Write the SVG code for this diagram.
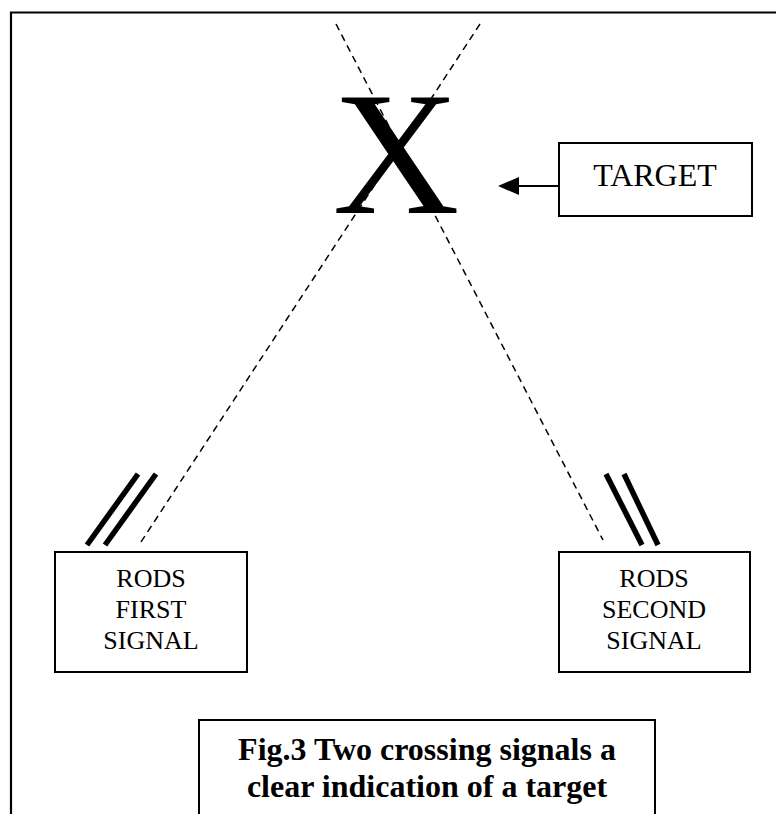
<svg xmlns="http://www.w3.org/2000/svg" width="776" height="814" viewBox="0 0 776 814">
  <style>
    .box { fill: #fff; stroke: #000; stroke-width: 2; }
    .frame { fill: none; stroke: #000; stroke-width: 2.2; }
    .label { font-family: "Liberation Serif", "Times New Roman", serif; fill: #000; text-anchor: middle; }
    .signal { stroke: #000; stroke-width: 1.5; stroke-dasharray: 7 5; fill: none; }
    .rod { stroke: #000; stroke-width: 5.5; }
    .caption { font-family: "Liberation Serif", "Times New Roman", serif; font-weight: bold; font-size: 32px; fill: #000; text-anchor: middle; }
  </style>
  <defs>
    <marker id="arrowhead" markerWidth="10" markerHeight="10" refX="0" refY="5" orient="auto" markerUnits="userSpaceOnUse" viewBox="0 0 10 10">
      <path d="M0,0 L10,5 L0,10 z" fill="#000"/>
    </marker>
  </defs>

  <rect width="776" height="814" fill="#fff"/>

  <!-- page frame: top and left rules only -->
  <path class="frame" d="M11,814 V12.5 H776"/>

  <!-- target mark -->
  <g id="target-mark">
    <text class="label" x="396" y="213" font-size="176">X</text>
  </g>

  <g id="connectors">
    <!-- signal paths crossing at the target -->
    <line class="signal" x1="336" y1="24" x2="603" y2="540"/>
    <line class="signal" x1="480" y1="24" x2="139" y2="545"/>
    <!-- rods of the first signal -->
    <line class="rod" x1="138" y1="474" x2="87" y2="545"/>
    <line class="rod" x1="156" y1="474" x2="105" y2="545"/>
    <!-- rods of the second signal -->
    <line class="rod" x1="606" y1="474" x2="642" y2="545"/>
    <line class="rod" x1="624" y1="474" x2="658" y2="545"/>
    <!-- pointer from the target label -->
    <line x1="559" y1="186" x2="517" y2="186" stroke="#000" stroke-width="2"/>
    <path d="M498,186 L519,177 L519,195 z" fill="#000"/>
  </g>

  <g id="target-label">
    <rect class="box" x="559" y="143" width="193" height="73"/>
    <text class="label" x="655" y="186" font-size="32">TARGET</text>
  </g>

  <g id="rods-first-signal">
    <rect class="box" x="55" y="552" width="192" height="120"/>
    <text class="label" x="151" y="587" font-size="26">RODS</text>
    <text class="label" x="151" y="618" font-size="26">FIRST</text>
    <text class="label" x="151" y="649" font-size="26">SIGNAL</text>
  </g>

  <g id="rods-second-signal">
    <rect class="box" x="559" y="552" width="191" height="120"/>
    <text class="label" x="654" y="587" font-size="26">RODS</text>
    <text class="label" x="654" y="618" font-size="26">SECOND</text>
    <text class="label" x="654" y="649" font-size="26">SIGNAL</text>
  </g>

  <g id="caption">
    <path class="box" d="M199,815 V720 H655 V815"/>
    <text class="caption" x="427" y="760">Fig.3 Two crossing signals a</text>
    <text class="caption" x="427" y="797">clear indication of a target</text>
  </g>
</svg>
